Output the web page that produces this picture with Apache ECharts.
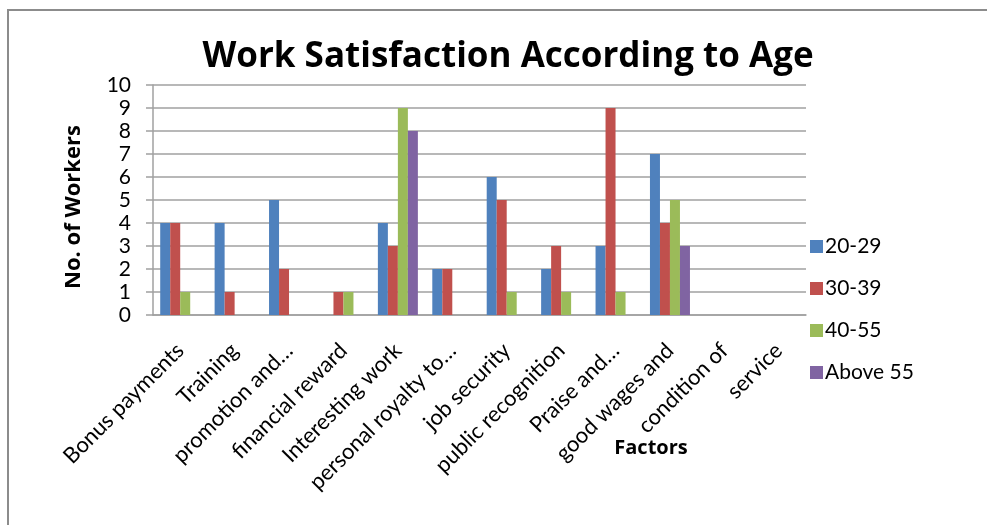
<!DOCTYPE html>
<html>
<head>
<meta charset="utf-8">
<title>Work Satisfaction According to Age</title>
<script src="https://cdn.jsdelivr.net/npm/echarts@6/dist/echarts.min.js"></script>
<style>
  html, body { margin: 0; padding: 0; background: #fff; }
  #chart { width: 987px; height: 525px; }
</style>
</head>
<body>
<div id="chart"></div>
<script>
// Factors on the category axis
const factors = [
  'Bonus payments', 'Training', 'promotion and…', 'financial reward',
  'Interesting work', 'personal royalty to…', 'job security', 'public recognition',
  'Praise and…', 'good wages and', 'condition of', 'service'
];

// Number of workers per age group (null = no bar)
const age20to29 = [4, 4, 5, null, 4, 2, 6, 2, 3, 7, null, null];
const age30to39 = [4, 1, 2, 1, 3, 2, 5, 3, 9, 4, null, null];
const age40to55 = [1, null, null, 1, 9, null, 1, 1, 1, 5, null, null];
const above55   = [null, null, null, null, 8, null, null, null, null, 3, null, null];

const groupNames = ['20-29', '30-39', '40-55', 'Above 55'];
const groupColors = ['#4F81BD', '#C0504D', '#9BBB59', '#8064A2'];
const yTicks = { min: 0, max: 10, interval: 1 };

const FONT = 'Lato';
const BOLD_FONT = 'Open Sans';
const groups = [age20to29, age30to39, age40to55, above55];

const chart = echarts.init(document.getElementById('chart'), null, { renderer: 'canvas' });

chart.setOption({
  backgroundColor: '#ffffff',
  animation: false,
  title: [
    {
      text: 'Work Satisfaction According to Age',
      left: 503, top: 35, textAlign: 'center',
      textStyle: { fontFamily: BOLD_FONT, fontSize: 35, fontWeight: 'bold', color: '#000' }
    },
    {
      text: 'Factors',
      left: 646, top: 433, textAlign: 'center',
      textStyle: { fontFamily: BOLD_FONT, fontSize: 20, fontWeight: 'bold', color: '#000' }
    }
  ],
  legend: {
    orient: 'vertical',
    left: 805, top: 231,
    itemWidth: 13, itemHeight: 13, itemGap: 21,
    icon: 'rect',
    textStyle: { fontFamily: FONT, fontSize: 21, color: '#000', lineHeight: 20, padding: [0, 0, 0, -3] },
    data: groupNames
  },
  grid: { left: 153, right: 181, top: 85, bottom: 210, containLabel: false },
  xAxis: {
    type: 'category',
    data: factors,
    axisLine: { show: true, lineStyle: { color: '#A0A0A0', width: 1.5 } },
    axisTick: { show: false },
    axisLabel: {
      interval: 0, rotate: 45, margin: 32,
      fontFamily: FONT, fontSize: 22, color: '#000'
    }
  },
  yAxis: {
    type: 'value',
    min: yTicks.min, max: yTicks.max, interval: yTicks.interval,
    name: 'No. of Workers',
    nameLocation: 'middle', nameGap: 68, nameRotate: 90,
    nameTextStyle: { fontFamily: BOLD_FONT, fontSize: 22, fontWeight: 'bold', color: '#000', padding: [0, 14, 0, 0] },
    axisLine: { show: true, lineStyle: { color: '#A0A0A0', width: 1.5 } },
    axisTick: { show: true, inside: false, length: 7, lineStyle: { color: '#A0A0A0', width: 1.5 } },
    axisLabel: { margin: 22, fontFamily: FONT, fontSize: 21, color: '#000' },
    splitLine: { show: true, lineStyle: { color: '#A0A0A0', width: 1.5 } }
  },
  graphic: [
    {
      type: 'rect',
      shape: { x: 8, y: 10, width: 1000, height: 540 },
      style: { fill: 'none', stroke: '#8C8C8C', lineWidth: 2 },
      silent: true, z: -1
    }
  ],
  series: groups.map((vals, i) => ({
    name: groupNames[i],
    type: 'bar',
    data: vals,
    barWidth: 10,
    barGap: '0%',
    itemStyle: { color: groupColors[i] }
  }))
});
</script>
</body>
</html>
